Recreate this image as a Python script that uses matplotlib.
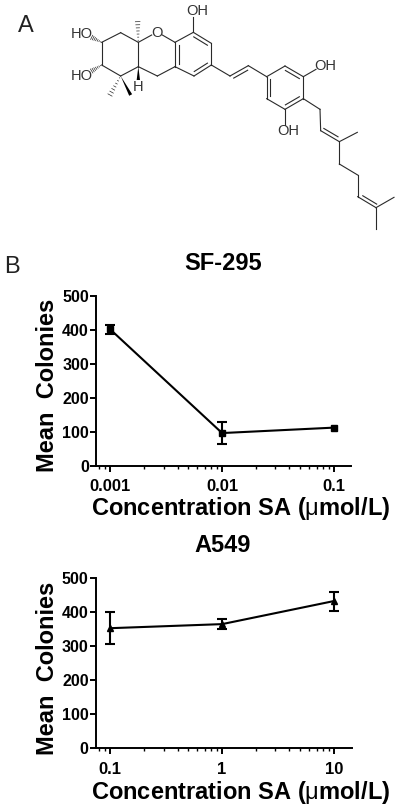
import numpy as np
import matplotlib
matplotlib.use("Agg")
import matplotlib.pyplot as plt
from matplotlib.ticker import LogLocator, NullFormatter

plt.rcParams['font.family'] = ['Liberation Sans', 'DejaVu Sans']
plt.rcParams['mathtext.fontset'] = 'custom'
plt.rcParams['mathtext.rm'] = 'Liberation Sans'

# dose response data
sf_conc = [0.001, 0.01, 0.1]
sf_mean = [401, 96, 112]
sf_err = [13, 32, np.nan]  # no visible bar on the last point
sf_labels = ['0.001', '0.01', '0.1']

a549_conc = [0.1, 1, 10]
a549_mean = [353, 365, 433]
a549_err = [47, 14, 28]
a549_labels = ['0.1', '1', '10']

y_ticks = [0, 100, 200, 300, 400, 500]

# molecule outline, in pixels of the 3x zoom
single_bonds = [
    ((305, 127), (305, 195)), ((305, 195), (362, 228)), ((362, 228), (415, 200)),
    ((415, 200), (415, 127)), ((415, 127), (362, 98)), ((362, 98), (305, 127)),
    ((415, 127), (455, 105)), ((487, 105), (525, 127)), ((525, 200), (472, 228)),
    ((472, 228), (415, 200)), ((580, 97), (580, 50)), ((525, 127), (580, 97)),
    ((634, 130), (634, 195)), ((582, 228), (525, 200)), ((634, 195), (690, 228)),
    ((745, 197), (800, 230)), ((800, 230), (855, 198)), ((910, 230), (910, 296)),
    ((855, 328), (800, 296)), ((910, 230), (948, 208)), ((855, 328), (855, 375)),
    ((910, 296), (960, 328)), ((960, 328), (962, 392)), ((1018, 425), (1072, 397)),
    ((1018, 425), (1018, 492)), ((1018, 492), (1073, 525)), ((1073, 525), (1073, 590)),
    ((1128, 623), (1182, 592)), ((1128, 623), (1128, 688)),
]
# third point is the one the inner line leans towards
double_bonds = [
    ((525, 127), (525, 200), (580, 163)), ((580, 97), (634, 130), (580, 163)),
    ((634, 195), (582, 228), (580, 163)), ((690, 228), (745, 197), (730, 240)),
    ((800, 230), (800, 296), (855, 263)), ((855, 198), (910, 230), (855, 263)),
    ((910, 296), (855, 328), (855, 263)), ((962, 392), (1018, 425), (1000, 370)),
    ((1073, 590), (1128, 623), (1135, 580)),
]
hash_bonds = [
    ((415, 127), (413, 65)), ((305, 127), (275, 112)),
    ((305, 195), (275, 213)), ((362, 228), (330, 285)),
]
bold_bonds = [((362, 228), (392, 285)), ((415, 200), (415, 240))]
mol_labels = [
    (593, 33, 'OH'), (245, 103, 'HO'), (245, 228, 'HO'), (470, 98, 'O'),
    (415, 260, 'H'), (977, 198, 'OH'), (866, 393, 'OH'),
]

fig = plt.figure(figsize=(4, 8.1), dpi=100)

# background axes in image pixels
bg = fig.add_axes([0, 0, 1, 1])
bg.set_xlim(0, 400); bg.set_ylim(810, 0)
bg.axis('off')

mol_col = '#2a2a2a'
for a, b in single_bonds:
    bg.plot([a[0]/3, b[0]/3], [a[1]/3, b[1]/3], color=mol_col, lw=0.8)
for a, b, c in double_bonds:
    a, b, c = np.array(a, float), np.array(b, float), np.array(c, float)
    bg.plot([a[0]/3, b[0]/3], [a[1]/3, b[1]/3], color=mol_col, lw=0.8)
    # inner line, pulled in towards c and shortened a bit
    m = (a + b)/2
    d = c - m
    d = d/np.linalg.norm(d)*11
    p = a + (b - a)*0.12 + d
    q = b - (b - a)*0.12 + d
    bg.plot([p[0]/3, q[0]/3], [p[1]/3, q[1]/3], color=mol_col, lw=0.8)
for a, b in hash_bonds:
    a, b = np.array(a, float), np.array(b, float)
    n = np.array([-(b - a)[1], (b - a)[0]])
    n = n/np.linalg.norm(n)
    for t in np.linspace(0.1, 1, 7):
        p = a + (b - a)*t
        w = 7*t
        bg.plot([(p[0] - n[0]*w)/3, (p[0] + n[0]*w)/3], [(p[1] - n[1]*w)/3, (p[1] + n[1]*w)/3],
                color=mol_col, lw=0.5)
for a, b in bold_bonds:
    a, b = np.array(a, float), np.array(b, float)
    n = np.array([-(b - a)[1], (b - a)[0]])
    n = n/np.linalg.norm(n)*5
    bg.fill([a[0]/3, (b[0] + n[0])/3, (b[0] - n[0])/3], [a[1]/3, (b[1] + n[1])/3, (b[1] - n[1])/3],
            color='black', lw=0)
for x, y, s in mol_labels:
    bg.text(x/3, y/3, s, fontsize=10.5, color='#333333', ha='center', va='center', zorder=5)

bg.text(26, 26, 'A', fontsize=17, color='#222222', ha='center', va='center')
bg.text(12, 267, 'B', fontsize=17, color='#222222', ha='center', va='center')


def panel(left, top, right, bottom, x, y, err, labels, marker, ms, title, title_y, xlab_y):
    ax = fig.add_axes([left/400, 1 - bottom/810, (right - left)/400, (bottom - top)/810])
    ax.patch.set_alpha(0)
    ax.errorbar(x, y, yerr=err, color='black', lw=1.5, marker=marker, ms=ms,
                capsize=3.6, capthick=1.5, elinewidth=1.5, clip_on=False)
    ax.set_xscale('log')
    decade = 111.8
    ax.set_xlim(x[0]*10**(-(110.2 - left)/decade), x[2]*10**((right - 334)/decade))
    ax.set_ylim(0, 500)
    ax.spines['top'].set_visible(False)
    ax.spines['right'].set_visible(False)
    ax.spines['left'].set_linewidth(1.4)
    ax.spines['bottom'].set_linewidth(1.4)
    ax.set_xticks(x)
    ax.set_xticklabels(labels)
    ax.xaxis.set_minor_locator(LogLocator(base=10, subs=np.arange(2, 10), numticks=12))
    ax.xaxis.set_minor_formatter(NullFormatter())
    ax.set_yticks(y_ticks)
    ax.tick_params(axis='both', which='major', length=4.3, width=1.4)
    ax.tick_params(axis='x', which='major', pad=5.5)
    ax.tick_params(axis='y', which='major', pad=1)
    ax.tick_params(axis='x', which='minor', length=2.5, width=1.0)
    for lab in ax.get_xticklabels():
        lab.set_fontsize(12); lab.set_fontweight('bold')
    for lab in ax.get_yticklabels():
        lab.set_fontsize(11.5); lab.set_fontweight('bold')
    ax.set_ylabel('Mean  Colonies', fontsize=17, fontweight='bold')
    ax.yaxis.set_label_coords(48, (top + bottom)/2 + 5, transform=bg.transData)
    ax.set_xlabel(r'Concentration SA ($\mathrm{\mu}$mol/L)', fontsize=17, fontweight='bold')
    ax.xaxis.set_label_coords(241, xlab_y, transform=bg.transData)
    ax.xaxis.label.set_va('center')
    ax.yaxis.label.set_va('center')
    bg.text(222.7, title_y, title, fontsize=17, fontweight='bold', ha='center', va='center')
    return ax


panel(96.3, 295.7, 350.7, 465.7, sf_conc, sf_mean, sf_err, sf_labels, 's', 5, 'SF-295', 263, 509)
panel(96, 578.3, 351.7, 748, a549_conc, a549_mean, a549_err, a549_labels, '^', 4.5, 'A549', 545.7, 792)

fig.savefig('out.png', dpi=100)
